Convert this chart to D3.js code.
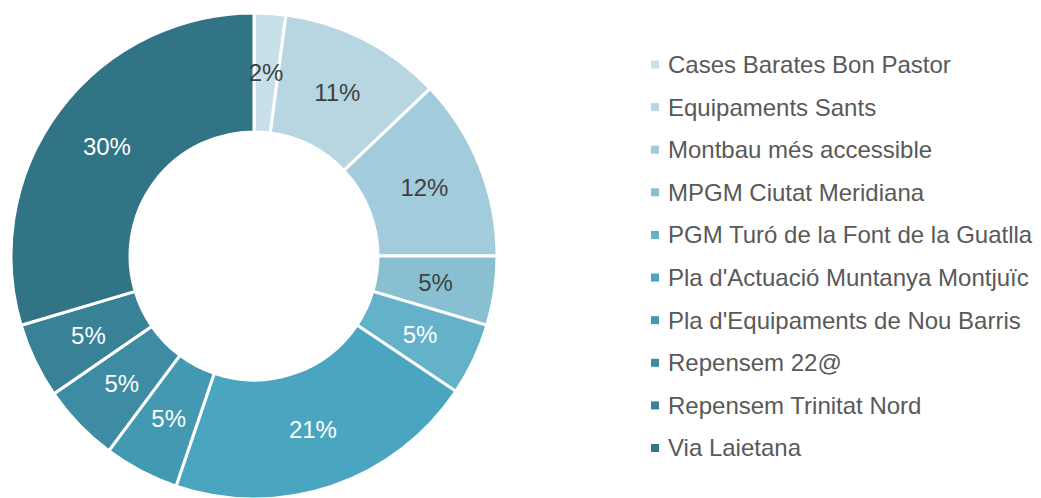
<!DOCTYPE html>
<html>
<head>
<meta charset="utf-8">
<script src="https://cdn.jsdelivr.net/npm/d3@7"></script>
<style>
  body { margin: 0; background: #fff; }
  svg { display: block; font-family: "Liberation Sans", Arial, sans-serif; }
</style>
</head>
<body>
<svg width="1041" height="498"></svg>
<script>
const categories = [
  "Cases Barates Bon Pastor",
  "Equipaments Sants",
  "Montbau més accessible",
  "MPGM Ciutat Meridiana",
  "PGM Turó de la Font de la Guatlla",
  "Pla d'Actuació Muntanya Montjuïc",
  "Pla d'Equipaments de Nou Barris",
  "Repensem 22@",
  "Repensem Trinitat Nord",
  "Via Laietana"
];
const shares = [2.1, 10.8, 12.1, 4.6, 4.8, 20.8, 5.0, 5.2, 5.0, 29.6];
const colors = ["#c8e0e9", "#b7d6e1", "#a2cbdb", "#88c0d2", "#64b2ca", "#4aa6c0",
                "#4399b1", "#3e8ca4", "#388196", "#317486"];
const darkLabel = [true, true, true, true, false, false, false, false, false, false];

var svg = d3.select("svg"),
    width = +svg.attr("width"),
    height = +svg.attr("height");

const cx = 254, cy = 256;
const outerR = 243, innerR = 124;

const color = d3.scaleOrdinal().domain(categories).range(colors);
const fmt = d3.format(".0%");
const total = d3.sum(shares);

const data = categories.map((c, i) => ({name: c, value: shares[i], dark: darkLabel[i]}));

const pie = d3.pie().value(d => d.value).sort(null);
const arc = d3.arc().innerRadius(innerR).outerRadius(outerR);

let g = svg.append("g").attr("transform", `translate(${cx},${cy})`);

let arcs = pie(data);

g.selectAll("path")
  .data(arcs)
  .enter().append("path")
  .attr("d", arc)
  .attr("fill", d => color(d.data.name))
  .attr("stroke", "#fff")
  .attr("stroke-width", 3);

g.selectAll("text")
  .data(arcs)
  .enter().append("text")
  .attr("transform", d => `translate(${arc.centroid(d)})`)
  .attr("text-anchor", "middle")
  .attr("dy", "0.35em")
  .style("font-size", "24px")
  .attr("fill", d => d.data.dark ? "#404040" : "#ffffff")
  .text(d => fmt(d.data.value / total));

// legend
const legendY = d3.scalePoint().domain(categories).range([64.5, 448]);

let legend = svg.append("g")
  .selectAll("g")
  .data(categories)
  .enter().append("g")
  .attr("transform", d => `translate(651,${legendY(d)})`);

legend.append("rect")
  .attr("x", 0)
  .attr("y", -4)
  .attr("width", 8)
  .attr("height", 8)
  .attr("fill", d => color(d));

legend.append("text")
  .attr("x", 17)
  .attr("dy", "0.35em")
  .style("font-size", "24px")
  .attr("fill", "#595959")
  .text(d => d);
</script>
</body>
</html>
